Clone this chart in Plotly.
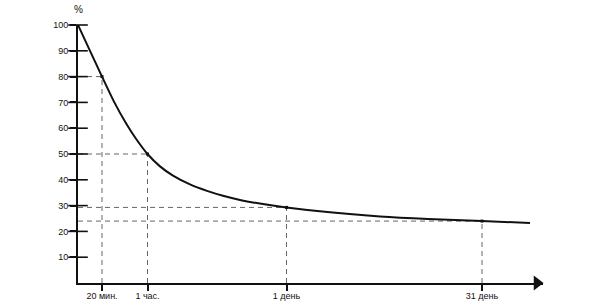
import plotly.graph_objects as go

# --- data ---
curve_x = [0, 12, 24, 36, 48, 58, 69.5, 82, 95, 112, 129, 145, 162, 185, 208.5, 252, 302, 350, 404, 452]
curve_y = [100, 90, 80, 70.3, 61.9, 55.9, 50, 45.2, 41.6, 38.2, 35.7, 33.8, 32.2, 30.6, 29.3, 27.4, 25.8, 24.8, 24, 23.3]
mark_x = [24, 69.5, 208.5, 404]
mark_y = [80, 50, 29.3, 24]
x_labels = ["20 мин.", "1 час.", "1 день", "31 день"]
y_ticks = [10, 20, 30, 40, 50, 60, 70, 80, 90, 100]

X_MAX = 465
FONT = "Liberation Sans, Arial, sans-serif"
INK = "#111111"
DASH = "#666666"

fig = go.Figure()

# dashed guide lines
for mx, my in zip(mark_x, mark_y):
    fig.add_trace(go.Scatter(x=[0, mx], y=[my, my], mode="lines",
                             line=dict(color=DASH, width=1, dash="5px,4px"),
                             hoverinfo="skip", showlegend=False))
    fig.add_trace(go.Scatter(x=[mx, mx], y=[0, my], mode="lines",
                             line=dict(color=DASH, width=1, dash="5px,4px"),
                             hoverinfo="skip", showlegend=False))

# curve
fig.add_trace(go.Scatter(x=curve_x, y=curve_y, mode="lines",
                         line=dict(color=INK, width=2, shape="spline", smoothing=0.8),
                         showlegend=False))
# marks
fig.add_trace(go.Scatter(x=mark_x, y=mark_y, mode="markers",
                         marker=dict(symbol="square", size=3, color=INK),
                         showlegend=False))

# y cross ticks (inside part)
fig.add_trace(go.Scatter(x=[0] * len(y_ticks), y=y_ticks, mode="markers",
                         marker=dict(symbol="line-ew", size=14,
                                     line=dict(color=INK, width=1.6)),
                         cliponaxis=False, hoverinfo="skip", showlegend=False))

# arrow head on x axis
fig.add_trace(go.Scatter(x=[X_MAX - 6], y=[0], mode="markers",
                         marker=dict(symbol="triangle-right", size=13, color=INK),
                         cliponaxis=False, hoverinfo="skip", showlegend=False))

fig.add_annotation(x=0, y=100, xref="x", yref="y", text="%", showarrow=False,
                   yshift=16, xshift=0, font=dict(family=FONT, size=10, color=INK))

fig.update_layout(
    width=598, height=308,
    margin=dict(l=78, r=598 - 78 - X_MAX, t=25, b=25),
    plot_bgcolor="white", paper_bgcolor="white",
    font=dict(family=FONT, size=9, color=INK),
    xaxis=dict(range=[0, X_MAX], showgrid=False, zeroline=False, automargin=False,
               showline=True, linecolor=INK, linewidth=2,
               tickvals=mark_x, ticktext=x_labels, ticks="outside",
               ticklen=6, tickwidth=1.6, tickcolor=INK, ticklabelstandoff=-3,
               tickfont=dict(family=FONT, size=9, color=INK)),
    yaxis=dict(range=[0, 100], showgrid=False, zeroline=False, automargin=False,
               showline=True, linecolor=INK, linewidth=2,
               tickvals=y_ticks, ticks="outside", ticklen=6,
               tickwidth=1.6, tickcolor=INK,
               tickfont=dict(family=FONT, size=9, color=INK)),
)

fig.write_html("out.html")
